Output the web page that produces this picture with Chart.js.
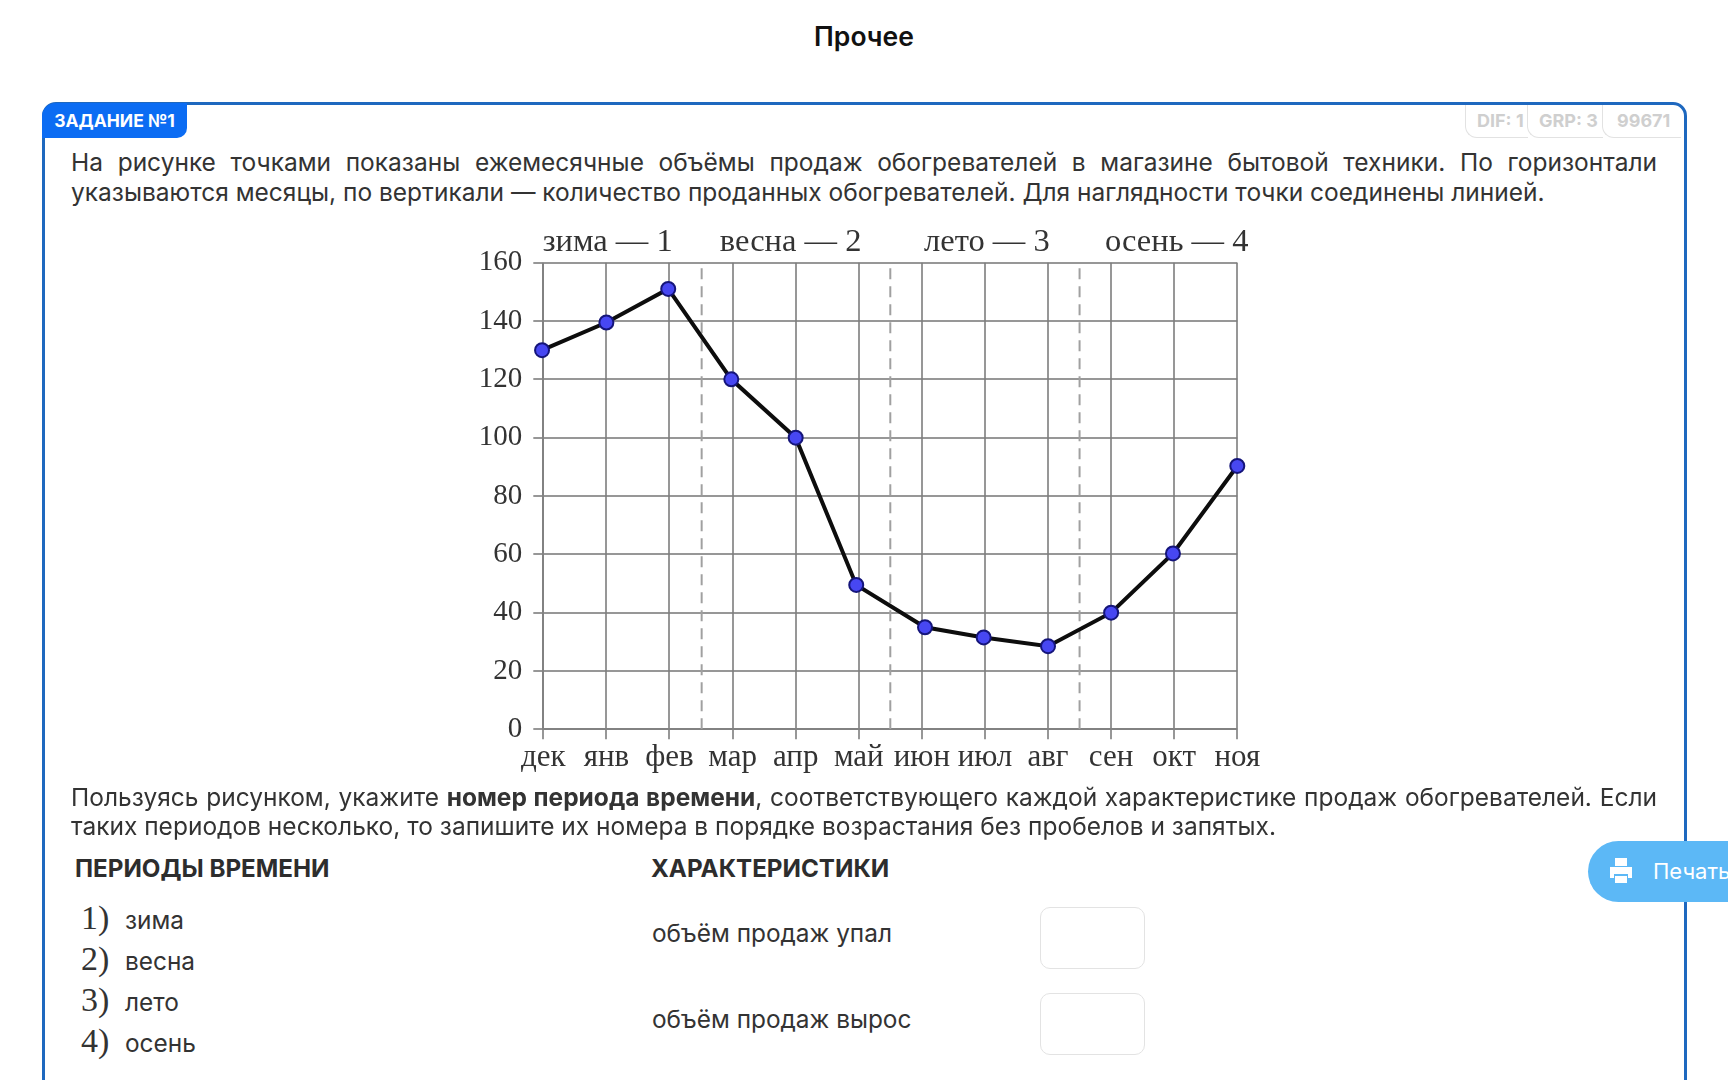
<!DOCTYPE html>
<html lang="ru">
<head>
<meta charset="utf-8">
<title>Прочее</title>
<script src="https://cdn.jsdelivr.net/npm/chart.js@4"></script>
<style>
    html, body { margin: 0; padding: 0; width: 1728px; height: 1080px; overflow: hidden; background: #fff; }
    body { position: relative; font-family: Inter, sans-serif; color: #333; }
    .abs { position: absolute; white-space: nowrap; }
    #title { left: 0; width: 1728px; top: 20px; text-align: center; font-size: 26.5px; font-weight: 600; color: #111; line-height: 32px; }
    #card { position: absolute; left: 42px; top: 102px; width: 1639px; height: 1100px; border: 3px solid #1e68bf; border-radius: 14px; }
    #badge { left: 42px; top: 103px; width: 145px; height: 35px; background: #0b6cf3; border-radius: 14px 0 10px 0; color: #fff; font-size: 17.5px; font-weight: 700; line-height: 35px; text-align: center; }
    .tag { position: absolute; top: 105px; height: 33px; border-left: 1.5px solid #e2e2e2; border-bottom: 1.5px solid #e2e2e2; border-bottom-left-radius: 12px; color: #cfcfcf; font-size: 18px; font-weight: 700; line-height: 31px; box-sizing: border-box; }
    .para { position: absolute; left: 71px; width: 1586px; font-size: 24.5px; line-height: 29.5px; text-align: justify; }
    .head { font-size: 24.2px; font-weight: 700; line-height: 30px; color: #2d2d2d; }
    .row { font-size: 24.4px; line-height: 30px; }
    .num { font-family: "Liberation Serif", serif; font-size: 34px; line-height: 36px; color: #333; }
    .box { position: absolute; left: 1040px; width: 105px; height: 62px; border: 1.5px solid #e3e3e3; border-radius: 10px; box-sizing: border-box; }
    #print { position: absolute; left: 1588px; top: 841px; width: 200px; height: 61px; border-radius: 31px; background: #5cb8f6; color: #fff; font-size: 22px; line-height: 60px; }
    #print span { position: absolute; left: 65px; }
    #print svg { position: absolute; left: 21px; top: 16px; }
    #chartWrap { position: absolute; left: 440px; top: 215px; width: 840px; height: 570px; }
    #chartWrap canvas { filter: blur(0.5px); }
</style>
</head>
<body>
<div id="title" class="abs">Прочее</div>
<div id="card"></div>
<div id="badge" class="abs">ЗАДАНИЕ №1</div>
<div class="tag" style="left:1465px;width:63px;padding-left:11px;">DIF: 1</div>
<div class="tag" style="left:1527px;width:76px;padding-left:11px;">GRP: 3</div>
<div class="tag" style="left:1602px;width:79px;padding-left:14px;">99671</div>

<div class="para" style="top:148px;">На рисунке точками показаны ежемесячные объёмы продаж обогревателей в магазине бытовой техники. По горизонтали указываются месяцы, по вертикали — количество проданных обогревателей. Для наглядности точки соединены линией.</div>

<div id="chartWrap"><canvas id="salesChart"></canvas></div>

<div class="para" style="top:783px;line-height:29px;">Пользуясь рисунком, укажите <b>номер периода времени</b>, соответствующего каждой характеристике продаж обогревателей. Если таких периодов несколько, то запишите их номера в порядке возрастания без пробелов и запятых.</div>

<div class="abs head" style="left:75px;top:854px;">ПЕРИОДЫ ВРЕМЕНИ</div>
<div class="abs head" style="left:651px;top:854px;">ХАРАКТЕРИСТИКИ</div>

<div class="abs num" style="left:81px;top:900px;">1)</div><div class="abs row" style="left:125px;top:905px;">зима</div>
<div class="abs num" style="left:81px;top:941px;">2)</div><div class="abs row" style="left:125px;top:946px;">весна</div>
<div class="abs num" style="left:81px;top:982px;">3)</div><div class="abs row" style="left:125px;top:987px;">лето</div>
<div class="abs num" style="left:81px;top:1023px;">4)</div><div class="abs row" style="left:125px;top:1028px;">осень</div>

<div class="abs row" style="left:652px;top:918px;">объём продаж упал</div>
<div class="abs row" style="left:652px;top:1004px;">объём продаж вырос</div>
<div class="box" style="top:907px;"></div>
<div class="box" style="top:993px;"></div>

<div id="print">
    <svg width="24" height="28" viewBox="0 0 24 28"><path fill="#fff" d="M6 1h12v8H6zM1 10h22v11h-4v-4H5v4H1zM6 19h12v7H6z"/></svg>
    <span>Печать</span>
</div>

<script>
// Подписи и значения
const months = ['дек', 'янв', 'фев', 'мар', 'апр', 'май', 'июн', 'июл', 'авг', 'сен', 'окт', 'ноя'];
const monthPositions = [-0.02, 1, 1.98, 2.98, 4, 4.96, 6.05, 6.98, 8, 9, 9.98, 11];
const sales = [130, 139.5, 151, 120, 100, 49.5, 35, 31.5, 28.5, 40, 60.3, 90.3];
const seasons = ['зима — 1', 'весна — 2', 'лето — 3', 'осень — 4'];
const seasonPositions = [1.02, 3.92, 7.03, 10.04];
const seasonBreaks = [2.51, 5.5, 8.5];

const gridColor = 'rgba(125, 125, 125, 0.8)';
const labelColor = '#333333';

function createSalesChart() {
    const ctx = document.querySelector('#salesChart').getContext('2d');

    const breakDatasets = seasonBreaks.map(position => ({
        data: [{ x: position, y: 0 }, { x: position, y: 160 }],
        borderColor: '#a0a0a0',
        borderWidth: 2,
        borderDash: [11, 7],
        pointRadius: 0,
    }));

    new Chart(ctx, {
        type: 'line',
        data: {
            datasets: [
                {
                    data: sales.map((value, i) => ({ x: monthPositions[i], y: value })),
                    borderColor: '#0d0d0d',
                    borderWidth: 4,
                    pointRadius: 7,
                    pointBackgroundColor: '#4747f2',
                    pointBorderColor: '#15157a',
                    pointBorderWidth: 2,
                    clip: false,
                },
                ...breakDatasets,
            ],
        },
        options: {
            responsive: true,
            maintainAspectRatio: false,
            animation: false,
            layout: { padding: { right: 42.7 } },
            plugins: { legend: { display: false }, tooltip: { enabled: false } },
            scales: {
                x: {
                    type: 'linear',
                    min: 0,
                    max: 11,
                    afterBuildTicks: scale => {
                        scale.ticks = months.map((m, i) => ({ value: i }));
                    },
                    afterFit: scale => { scale.height = 55.7; },
                    grid: { color: gridColor, lineWidth: 2, tickLength: 10 },
                    border: { color: gridColor, width: 2 },
                    ticks: {
                        autoSkip: false,
                        maxRotation: 0,
                        padding: 0,
                        color: labelColor,
                        font: { family: '"Liberation Serif", serif', size: 31 },
                        callback: value => months[value],
                    },
                },
                top: {
                    type: 'linear',
                    position: 'top',
                    min: 0,
                    max: 11,
                    afterBuildTicks: scale => {
                        scale.ticks = seasonPositions.map(position => ({ value: position }));
                    },
                    afterFit: scale => { scale.height = 47.7; },
                    grid: { display: false, drawTicks: false, tickLength: 0 },
                    border: { display: false },
                    ticks: {
                        autoSkip: false,
                        maxRotation: 0,
                        padding: 1,
                        color: labelColor,
                        font: { family: '"Liberation Serif", serif', size: 32.5 },
                        callback: value => seasons[seasonPositions.indexOf(value)],
                    },
                },
                y: {
                    min: 0,
                    max: 160,
                    afterFit: scale => { scale.width = 103.3; },
                    grid: { color: gridColor, lineWidth: 2, tickLength: 10 },
                    border: { color: gridColor, width: 2 },
                    ticks: {
                        stepSize: 20,
                        padding: 11,
                        color: labelColor,
                        font: { family: '"Liberation Serif", serif', size: 29 },
                    },
                },
            },
        },
    });
}

createSalesChart();
</script>
</body>
</html>
